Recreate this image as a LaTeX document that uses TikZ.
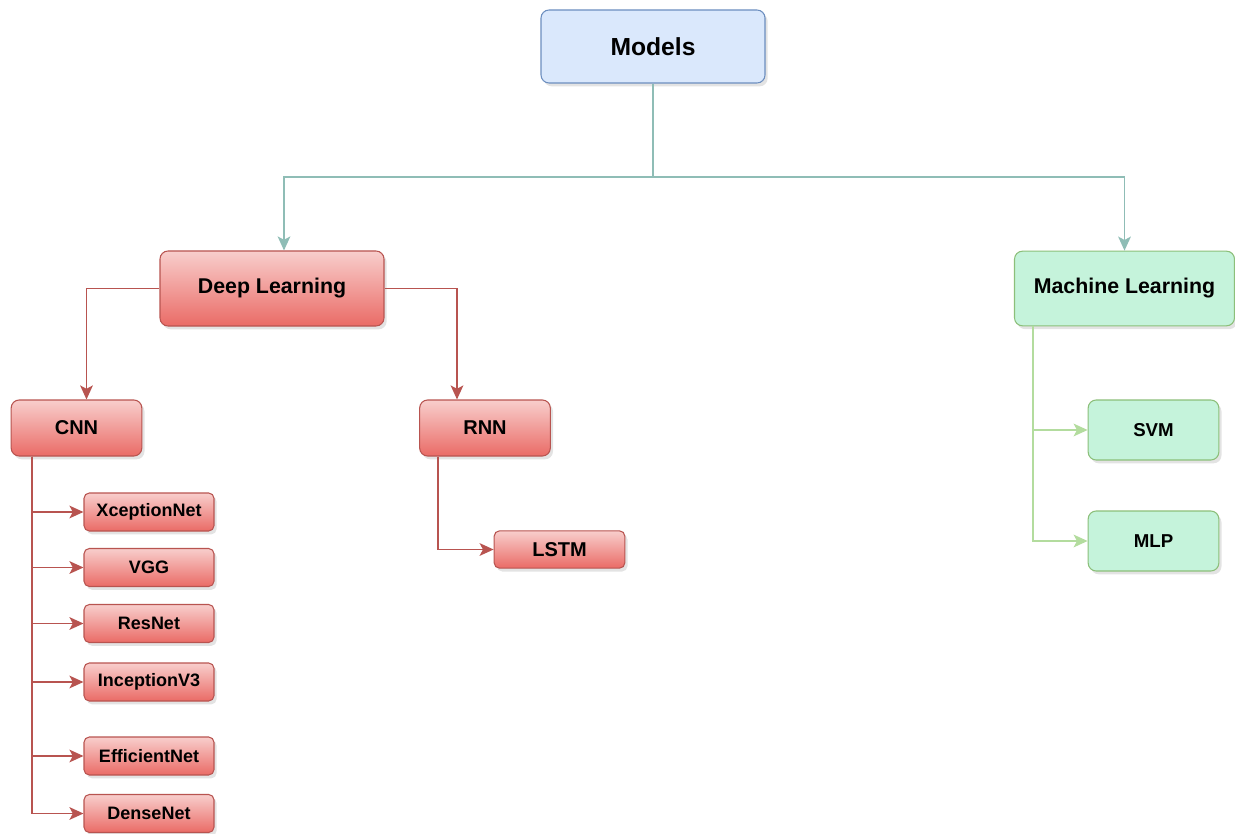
\documentclass[tikz,border=0pt]{standalone}
\usepackage{fontspec}
\setmainfont{Liberation Sans}
\usetikzlibrary{arrows.meta,shadows,calc}
\definecolor{blueF}{HTML}{DAE8FC}
\definecolor{blueD}{HTML}{6C8EBF}
\definecolor{redTop}{HTML}{F8CECC}
\definecolor{redBot}{HTML}{EA6B66}
\definecolor{redD}{HTML}{B85450}
\definecolor{mintF}{HTML}{C5F3DB}
\definecolor{mintD}{HTML}{8CBF7A}
\definecolor{tealL}{HTML}{8FBDB6}
\definecolor{greenL}{HTML}{B3DC9E}
\tikzset{
  box/.style={rounded corners=6pt, align=center, inner sep=0pt, text=black,
    drop shadow={opacity=0.22, shadow xshift=2pt, shadow yshift=-2.5pt}},
  bluebox/.style={box, draw=blueD, fill=blueF, line width=0.8pt},
  redbox/.style={box, draw=redD, top color=redTop, bottom color=redBot, line width=0.8pt},
  mintbox/.style={box, draw=mintD, fill=mintF, line width=0.8pt},
  tline/.style={draw=tealL, line width=1.3pt, -{Stealth[length=10.5pt,width=9.5pt,inset=2.5pt]}},
  rline/.style={draw=redD, line width=1.3pt, -{Stealth[length=10.5pt,width=9.5pt,inset=2.5pt]}},
  gline/.style={draw=greenL, line width=1.3pt, -{Stealth[length=10.5pt,width=9.5pt,inset=2.5pt]}},
}
\begin{document}
\begin{tikzpicture}[x=0.75pt,y=-0.75pt]
\useasboundingbox (0,0) rectangle (1235,834);
% nodes
\node[bluebox, minimum width=168pt, minimum height=54.75pt, font=\bfseries\fontsize{18.5}{20}\selectfont] (models) at (653,46.5) {Models};
\node[redbox, minimum width=168pt, minimum height=56.25pt, font=\bfseries\fontsize{16}{18}\selectfont] (dl) at (272,288.5) {Deep Learning};
\node[mintbox, minimum width=165pt, minimum height=56pt, font=\bfseries\fontsize{16}{18}\selectfont] (ml) at (1124.5,288.5) {Machine Learning};
\node[redbox, minimum width=98pt, minimum height=42pt, font=\bfseries\fontsize{15}{17}\selectfont] (cnn) at (76.5,428) {CNN};
\node[redbox, minimum width=98pt, minimum height=42pt, font=\bfseries\fontsize{15}{17}\selectfont] (rnn) at (485,428) {RNN};
\tikzset{small/.style={redbox, rounded corners=4pt, minimum width=97.5pt, minimum height=28.5pt, font=\bfseries\fontsize{13.5}{15}\selectfont}}
\node[small] (xc) at (149,512) {XceptionNet};
\node[small] (vgg) at (149,567.5) {VGG};
\node[small] (res) at (149,623.5) {ResNet};
\node[small] (inc) at (149,682) {InceptionV3};
\node[small] (eff) at (149,756) {EfficientNet};
\node[small] (den) at (149,813.5) {DenseNet};
\node[small, minimum width=98pt, minimum height=28pt, font=\bfseries\fontsize{15}{17}\selectfont] (lstm) at (559.5,549.5) {LSTM};
\node[mintbox, minimum width=98pt, minimum height=45pt, font=\bfseries\fontsize{14}{16}\selectfont] (svm) at (1153.5,430) {SVM};
\node[mintbox, minimum width=98pt, minimum height=45pt, font=\bfseries\fontsize{14}{16}\selectfont] (mlp) at (1153.5,541) {MLP};
% connectors
\coordinate (j) at (653,177);
\draw[tline] (models.south) -- (j) -| ([xshift=9pt]dl.north);
\draw[tline] (j) -| (ml.north);
\draw[rline] (dl.west) -| ([xshift=7.5pt]cnn.north);
\draw[rline] (dl.east) -| ([xshift=-21pt]rnn.north);
\coordinate (ct) at ([xshift=-33.4pt]cnn.south);
\foreach \n in {xc,vgg,res,inc,eff,den}{
  \draw[rline] (ct) |- (\n.west);
}
\draw[rline] ([xshift=-35.2pt]rnn.south) |- (lstm.west);
\coordinate (mt) at ([xshift=-68.6pt]ml.south);
\draw[gline] (mt) |- (svm.west);
\draw[gline] (mt) |- (mlp.west);
\end{tikzpicture}
\end{document}
